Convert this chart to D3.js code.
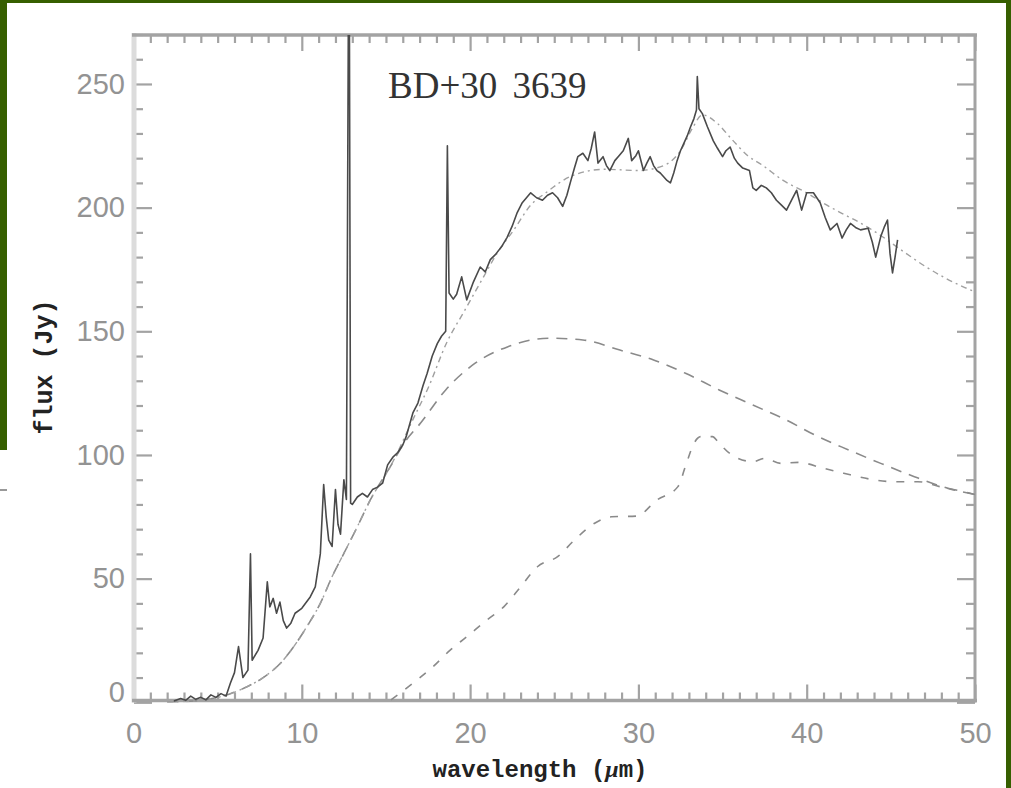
<!DOCTYPE html>
<html>
<head>
<meta charset="utf-8">
<script src="https://cdn.jsdelivr.net/npm/d3@7"></script>
<style>
html,body{margin:0;padding:0;background:#fff;}
svg{display:block;}
</style>
</head>
<body>
<svg id="chart" width="1011" height="788"></svg>
<script>
// ---- data ----
const chartTitle = "BD+30 3639";
const xTitle = "wavelength (";
const yTitle = "flux (Jy)";
const xMajorTicks = [0, 10, 20, 30, 40, 50];
const yMajorTicks = [0, 50, 100, 150, 200, 250];

// observed spectrum
const specWave = [2.4,2.8,3.1,3.4,3.7,4.0,4.3,4.6,4.9,5.2,5.5,5.76,6.0,6.24,6.5,6.8,6.95,7.05,7.4,7.7,7.95,8.1,8.3,8.5,8.7,8.9,9.1,9.35,9.6,10.0,10.5,10.8,11.1,11.3,11.45,11.6,11.8,12.0,12.15,12.3,12.5,12.65,12.78,12.82,12.9,13.0,13.3,13.6,13.9,14.2,14.5,14.8,15.1,15.4,15.7,16.0,16.2,16.6,16.9,17.2,17.45,17.75,18.05,18.3,18.55,18.65,18.75,19.0,19.2,19.5,19.8,20.2,20.6,20.9,21.2,21.5,21.9,22.2,22.5,22.8,23.1,23.35,23.6,23.95,24.3,24.6,24.9,25.2,25.5,25.75,25.95,26.2,26.4,26.7,27.0,27.2,27.4,27.6,27.9,28.1,28.3,28.6,28.85,29.1,29.4,29.6,29.85,30.0,30.3,30.5,30.7,30.9,31.1,31.3,31.5,31.7,31.9,32.1,32.3,32.5,32.7,32.9,33.1,33.3,33.45,33.5,33.6,33.8,34.1,34.45,34.7,35.0,35.2,35.45,35.7,35.9,36.2,36.6,36.8,37.0,37.3,37.6,37.9,38.2,38.5,38.8,39.1,39.4,39.7,40.0,40.4,40.6,40.8,41.1,41.4,41.8,42.1,42.35,42.6,42.9,43.2,43.65,43.9,44.1,44.4,44.6,44.8,44.95,45.1,45.25,45.4];
const specFlux = [0.5,1.5,0.8,2.5,1.2,2.0,1.0,3.0,2.0,3.5,2.5,7.8,12,22.5,10,13,60,17,21,26,48.7,38.6,42,36,40.5,33,30,32,36,38,42.6,46.7,60,88,75,65.6,63,86,72,68,90,82,300,300,80.5,80,83,84.5,83,86,87,88.6,96,99,101,104,107.4,117,121,128,133,140,145,148,150,225,165.5,163,165,172,162.7,170,176,174,179,181,184.5,188,192.5,198,202,204,206,204,203,205,206,204,200.5,205,210,216,220.6,222,219,224,230.6,218,220.6,217,215,219,221,223,228,219,221,223,215,218,220.6,217,215,214,212.5,211,210,214,219,223,226,229,232.7,236,239.5,253,240,238,232.7,227,224,220.6,223,224.5,220,218,216,215,208,207,209,208,206,203,201,199,203,207,199,206,206,204,202,196,191,193.6,187.7,191,193.6,192,191,191.7,186,180,188.3,192,195,181.5,173.6,180,187];

// model: total (dash-dot)
const totalWave = [2,3,4,5,5.8,6.75,7.64,8.73,9.52,10.3,11.1,11.8,12.5,13.3,14.07,15.26,16.65,17.5,18.65,19.6,20.8,21.6,22.6,23.6,24.5,26.1,28,30,31.5,32.5,33.2,33.8,34.7,35.5,36.5,37.4,38.6,40,41.2,42,43,44,45.8,47.1,49.3,50];
const totalFlux = [0,0.3,0.8,2,3.6,6.3,9.7,15.8,22.5,30.6,40,50.8,60.2,71,81.8,95.3,115,127,146,157.5,172,181.5,191,201,206,213,215.5,215,217,223,232,237.5,234,228,221,217,211,206,201,198,194.5,190.5,182,176,168,166];

// model: cool dust component (long dashes)
const comp1Wave = [2,3,4,5,5.8,6.75,7.64,8.73,9.52,10.3,11.1,11.8,12.5,13.3,14.07,15.26,16.1,17.07,18.55,20.28,22.25,24.7,26.7,28.9,30.9,32.8,34.8,36.8,38.8,40.5,42.5,44.4,46.4,48.4,50];
const comp1Flux = [0,0.3,0.8,2,3.6,6.3,9.7,15.8,22.5,30.6,40,50.8,60.2,71,81.8,95.3,105,113,126.3,137,143.8,147.2,146.5,142.4,138.4,133,126.3,120.2,114.1,108,102,96.6,91.2,86.5,84];

// model: second component (short dashes)
const comp2Wave = [15.3,16.6,17.8,18.8,19.8,21.0,22.0,23.0,24.0,25.2,26.2,27.4,28.4,29.9,31.1,32.35,32.85,33.3,33.7,34.4,34.8,35.55,36.8,37.5,38.5,39.5,41.0,42.2,43.7,45.2,46.6,47.9,49.6,50];
const comp2Flux = [1,7.7,14.4,21,26.5,33.3,38.6,46.7,54.8,58.9,65.6,72.4,75,75.3,81.8,87.2,96.6,104.7,107.4,107.4,104.7,100,97.3,98.6,96.6,97,94.6,92.6,90.3,89.2,89.2,87.2,84.7,84];

// ---- drawing ----
const svg = d3.select("#chart");
const W = 1011, H = 788;
const green = "#365f00";

svg.append("rect").attr("x",0).attr("y",0).attr("width",W).attr("height",H).attr("fill","#fff");
svg.append("rect").attr("x",0).attr("y",0).attr("width",W).attr("height",3).attr("fill",green);
svg.append("rect").attr("x",0).attr("y",0).attr("width",7).attr("height",450).attr("fill",green);
svg.append("rect").attr("x",1006).attr("y",0).attr("width",5).attr("height",H).attr("fill",green);
svg.append("line").attr("x1",0).attr("x2",7).attr("y1",490).attr("y2",490).attr("stroke","#999").attr("stroke-width",2);

const x = d3.scaleLinear().domain([0,50]).range([133.5,975]);
const y = d3.scaleLinear().domain([0,270]).range([702.3,34.5]);

const axisColor = "#a3a3a3";
const xMinor = d3.range(0,51,1).filter(v => v % 10 !== 0);
const yMinor = d3.range(0,271,10).filter(v => v % 50 !== 0);

const pLeft = 134, pRight = 975, pTop = 35, pBottom = 700.5;

function styleAxis(g){
  g.select(".domain").remove();
  g.selectAll(".tick line").attr("stroke",axisColor).attr("stroke-width",2.2);
}

// minor ticks
svg.append("g").attr("transform",`translate(0,${pBottom})`)
  .call(d3.axisBottom(x).tickValues(xMinor).tickSize(-8).tickFormat(""))
  .call(styleAxis);
svg.append("g").attr("transform",`translate(0,${pTop})`)
  .call(d3.axisTop(x).tickValues(xMinor).tickSize(-8).tickFormat(""))
  .call(styleAxis);
svg.append("g").attr("transform",`translate(${pLeft},0)`)
  .call(d3.axisLeft(y).tickValues(yMinor).tickSize(-9).tickFormat(""))
  .call(styleAxis);
svg.append("g").attr("transform",`translate(${pRight},0)`)
  .call(d3.axisRight(y).tickValues(yMinor).tickSize(-9).tickFormat(""))
  .call(styleAxis);

// major ticks with labels
const labelFont = "'Liberation Sans', Arial, sans-serif";
const gxb = svg.append("g").attr("transform",`translate(0,${pBottom})`)
  .call(d3.axisBottom(x).tickValues(xMajorTicks).tickSize(-16).tickPadding(22).tickFormat(d3.format("d")))
  .call(styleAxis);
gxb.selectAll(".tick text").attr("fill","#939393").style("font-family",labelFont).style("font-size","29px");

svg.append("g").attr("transform",`translate(0,${pTop})`)
  .call(d3.axisTop(x).tickValues(xMajorTicks).tickSize(-16).tickFormat(""))
  .call(styleAxis);

const gyl = svg.append("g").attr("transform",`translate(${pLeft},0)`)
  .call(d3.axisLeft(y).tickValues(yMajorTicks).tickSize(-18).tickPadding(9).tickFormat(d3.format("d")))
  .call(styleAxis);
gyl.selectAll(".tick text").attr("fill","#939393").style("font-family",labelFont).style("font-size","29px");
gyl.selectAll(".tick text").filter(d => d === 0).attr("dy","-0.03em");

svg.append("g").attr("transform",`translate(${pRight},0)`)
  .call(d3.axisRight(y).tickValues(yMajorTicks).tickSize(-18).tickFormat(""))
  .call(styleAxis);

// frame lines
svg.append("line").attr("x1",pLeft).attr("x2",pLeft).attr("y1",pTop-2).attr("y2",pBottom+2).attr("stroke","#dcdcdc").attr("stroke-width",5);
svg.append("line").attr("x1",pLeft-2).attr("x2",pRight+2).attr("y1",pTop).attr("y2",pTop).attr("stroke",axisColor).attr("stroke-width",3.5);
svg.append("line").attr("x1",pLeft-2).attr("x2",pRight+2).attr("y1",pBottom).attr("y2",pBottom).attr("stroke",axisColor).attr("stroke-width",3.5);
svg.append("line").attr("x1",pRight).attr("x2",pRight).attr("y1",pTop).attr("y2",pBottom+2).attr("stroke",axisColor).attr("stroke-width",3);

// clip
svg.append("clipPath").attr("id","plotclip").append("rect")
  .attr("x",pLeft).attr("y",pTop).attr("width",pRight-pLeft).attr("height",pBottom-pTop+2);

const plot = svg.append("g").attr("clip-path","url(#plotclip)");

function series(ws, fs){ return ws.map((w,i)=>[w, fs[i]]); }
const line = d3.line().x(d => x(d[0])).y(d => y(d[1]));
const smooth = d3.line().x(d => x(d[0])).y(d => y(d[1])).curve(d3.curveMonotoneX);

plot.append("path").datum(series(comp1Wave, comp1Flux)).attr("d", smooth)
  .attr("fill","none").attr("stroke","#8a8a8a").attr("stroke-width",1.6).attr("stroke-dasharray","11,8");
plot.append("path").datum(series(comp2Wave, comp2Flux)).attr("d", smooth)
  .attr("fill","none").attr("stroke","#8a8a8a").attr("stroke-width",1.6).attr("stroke-dasharray","8,10");
plot.append("path").datum(series(totalWave, totalFlux)).attr("d", smooth)
  .attr("fill","none").attr("stroke","#a0a0a0").attr("stroke-width",1.4).attr("stroke-dasharray","6,4,2,4");
plot.append("path").datum(series(specWave, specFlux)).attr("d", line)
  .attr("fill","none").attr("stroke","#4a4a4a").attr("stroke-width",1.6).attr("stroke-linejoin","round");

// titles
svg.append("text").attr("x",388).attr("y",98)
  .style("font-family","'Liberation Serif', 'Times New Roman', serif").style("font-size","37px")
  .style("word-spacing","6px")
  .attr("fill","#333").text(chartTitle);

const xt = svg.append("text").attr("x",540).attr("y",777).attr("text-anchor","middle")
  .style("font-family","'Liberation Mono', 'Courier New', monospace").style("font-size","24px").style("font-weight","bold")
  .attr("fill","#222");
xt.append("tspan").text(xTitle);
xt.append("tspan").style("font-style","italic").style("font-family","'Liberation Serif', serif").text("μ");
xt.append("tspan").text("m)");

svg.append("text").attr("transform","translate(52,367) rotate(-90)").attr("text-anchor","middle")
  .style("font-family","'Liberation Mono', 'Courier New', monospace").style("font-size","25px").style("font-weight","bold")
  .attr("fill","#222").text(yTitle);
</script>
</body>
</html>
